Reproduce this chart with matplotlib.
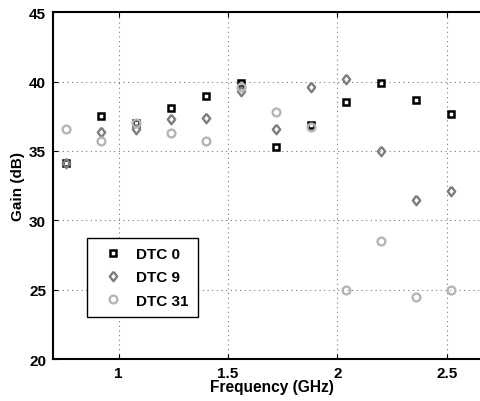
import matplotlib
matplotlib.use("Agg")
import matplotlib.pyplot as plt

# Measured gain versus frequency for three DTC settings
freq_ghz = [0.76, 0.92, 1.08, 1.24, 1.40, 1.56, 1.72, 1.88, 2.04, 2.20, 2.36, 2.52, 2.68]
gain_dtc0 = [34.1, 37.5, 37.0, 38.1, 39.0, 39.9, 35.3, 36.9, 38.5, 39.9, 38.7, 37.7, 35.5]
gain_dtc9 = [34.1, 36.4, 36.6, 37.3, 37.4, 39.3, 36.6, 39.6, 40.2, 35.0, 31.5, 32.1, 31.0]
gain_dtc31 = [36.6, 35.7, 37.0, 36.3, 35.7, 39.6, 37.8, 36.7, 25.0, 28.5, 24.5, 25.0, 24.6]
series_labels = ["DTC 0", "DTC 9", "DTC 31"]

x_ticks = [1, 1.5, 2, 2.5]
x_tick_labels = ["1", "1.5", "2", "2.5"]
y_ticks = [20, 25, 30, 35, 40, 45]

plt.rcParams["font.family"] = ["Liberation Sans", "DejaVu Sans"]
plt.rcParams["font.weight"] = "bold"

W, H = 481, 402
fig = plt.figure(figsize=(W / 100, H / 100), dpi=100)

ax_left = 53 / W
ax_bottom = 1 - 360 / H
ax_height = (360 - 13.3) / H
ax_width = 437.4 / W
ax = fig.add_axes([ax_left, ax_bottom, ax_width, ax_height])

diamond = [(0, 1), (0.78, 0), (0, -1), (-0.78, 0), (0, 1)]

ax.plot(freq_ghz, gain_dtc0, linestyle="none", marker="s", markersize=4.6,
        markerfacecolor="none", markeredgecolor="black", markeredgewidth=1.8,
        label=series_labels[0])
ax.plot(freq_ghz, gain_dtc9, linestyle="none", marker=diamond, markersize=6.8,
        markerfacecolor="none", markeredgecolor="#7d7d7d", markeredgewidth=1.7,
        label=series_labels[1])
ax.plot(freq_ghz, gain_dtc31, linestyle="none", marker="o", markersize=5.6,
        markerfacecolor="none", markeredgecolor="#b5b5b5", markeredgewidth=1.7,
        label=series_labels[2])

ax.set_xlim(0.7, 2.7)
ax.set_ylim(20, 45)
ax.set_xticks(x_ticks)
ax.set_xticklabels(x_tick_labels)
ax.set_yticks(y_ticks)

ax.grid(True, linestyle=(0, (1, 3.2)), linewidth=0.8, color="#777777")
ax.tick_params(direction="in", length=3.5, width=0.8, top=True, right=True,
               labelsize=11, pad=5)
for lab in ax.get_xticklabels() + ax.get_yticklabels():
    lab.set_fontweight("bold")
for s in ax.spines.values():
    s.set_linewidth(1.5)

ax.set_xlabel("Frequency (GHz)", fontsize=11.2, fontweight="bold", labelpad=-1)
ax.set_ylabel("Gain (dB)", fontsize=11, fontweight="bold", labelpad=3)

leg = ax.legend(loc="upper left", bbox_to_anchor=(87.3 / W, 1 - 238.7 / H),
                bbox_transform=fig.transFigure, borderaxespad=0,
                fancybox=False, framealpha=1, edgecolor="black",
                prop={"size": 11, "weight": "bold"}, handlelength=2.2,
                handletextpad=0.4, labelspacing=0.62, borderpad=0.6)
leg.get_frame().set_linewidth(1.0)

fig.savefig("out.png", dpi=100)
